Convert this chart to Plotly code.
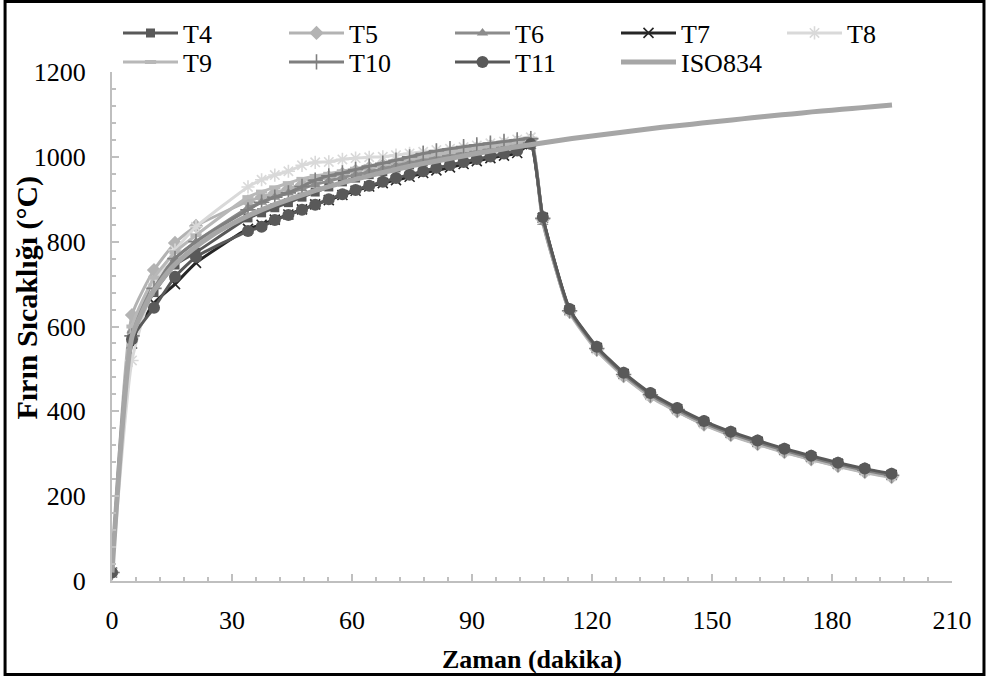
import plotly.graph_objects as go

# Measurement times (minutes): heating phase then cooling phase
t_heat = [0, 5, 10.5, 15.75, 21, 34.0, 37.4, 40.7, 44.1, 47.5, 50.8, 54.2, 57.6, 60.9,
          64.3, 67.7, 71.0, 74.4, 77.8, 81.1, 84.5, 87.9, 91.2, 94.6, 98.0, 101.3, 104.7]
t_cool = [107.7, 114.4, 121.2, 127.9, 134.6, 141.3, 148.0, 154.7, 161.4, 168.1,
          174.8, 181.5, 188.2, 194.9]

# Furnace temperatures (°C) per thermocouple
T4_heat = [20, 580, 680, 745, 775, 856, 868, 880, 892, 905, 917, 929, 941, 950,
           958, 965, 974, 981, 988, 993, 1000, 1009, 1012, 1016, 1023, 1028, 1036]
T4_cool = [858, 640, 550, 489, 441, 406, 375, 350, 329, 310, 293, 277, 263, 251]

T5_heat = [20, 627, 733, 797, 837, 895, 905, 915, 925, 935, 944, 952, 960, 967,
           974, 980, 986, 992, 998, 1004, 1010, 1015, 1020, 1025, 1030, 1035, 1040]
T5_cool = [852, 635, 545, 483, 435, 400, 369, 344, 323, 304, 287, 271, 257, 245]

T6_heat = [20, 590, 700, 760, 800, 880, 893, 905, 915, 925, 935, 943, 951, 958,
           965, 972, 979, 986, 992, 998, 1004, 1010, 1015, 1020, 1025, 1030, 1038]
T6_cool = [845, 637, 547, 486, 438, 403, 372, 347, 326, 307, 290, 274, 260, 248]

T7_heat = [20, 560, 655, 700, 750, 830, 840, 852, 864, 876, 888, 898, 910, 920,
           930, 938, 945, 953, 962, 968, 975, 983, 990, 997, 1003, 1009, 1030]
T7_cool = [856, 638, 549, 488, 440, 405, 374, 349, 328, 309, 292, 276, 262, 250]

T8_heat = [20, 520, 700, 780, 835, 929, 946, 957, 966, 980, 987, 988, 994, 997,
           999, 1000, 1004, 1008, 1012, 1016, 1019, 1023, 1027, 1032, 1036, 1041, 1046]
T8_cool = [853, 636, 546, 485, 437, 402, 371, 346, 325, 306, 289, 273, 259, 247]

T9_heat = [20, 600, 715, 775, 815, 905, 918, 928, 938, 948, 955, 960, 966, 972,
           978, 984, 990, 996, 1001, 1006, 1011, 1016, 1020, 1025, 1030, 1034, 1040]
T9_cool = [850, 633, 543, 482, 434, 399, 368, 343, 322, 303, 286, 270, 256, 244]

T10_heat = [20, 578, 690, 760, 800, 875, 893, 905, 915, 930, 945, 955, 962, 970,
            978, 985, 992, 1000, 1008, 1014, 1019, 1024, 1028, 1032, 1036, 1040, 1043]
T10_cool = [855, 637, 548, 487, 439, 404, 373, 348, 327, 308, 291, 275, 261, 249]

T11_heat = [20, 570, 644, 717, 764, 825, 835, 851, 863, 875, 887, 900, 912, 922,
            932, 941, 950, 958, 966, 974, 981, 988, 995, 1001, 1008, 1015, 1030]
T11_cool = [858, 641, 552, 491, 443, 408, 377, 352, 331, 312, 295, 279, 265, 253]

# Standard fire curve
t_iso = [0, 5, 10, 15, 20, 25, 30, 35, 40, 45, 50, 55, 60, 65, 70, 75, 80, 85, 90, 95,
         100, 105, 110, 115, 120, 125, 130, 135, 140, 145, 150, 155, 160, 165, 170,
         175, 180, 185, 190, 195]
iso834 = [20, 576, 678, 739, 781, 815, 842, 865, 885, 902, 918, 932, 945, 957, 968,
          979, 988, 997, 1006, 1014, 1022, 1029, 1036, 1043, 1049, 1055, 1061, 1067,
          1072, 1077, 1082, 1087, 1092, 1097, 1101, 1106, 1110, 1114, 1118, 1122]

x_ticks = [0, 30, 60, 90, 120, 150, 180, 210]
y_ticks = [0, 200, 400, 600, 800, 1000, 1200]

FONT = "Liberation Serif, Times New Roman, serif"

series = [
    ("T4", T4_heat, T4_cool, "#595959", dict(symbol="square", size=9), "legend"),
    ("T5", T5_heat, T5_cool, "#b3b3b3", dict(symbol="diamond", size=11), "legend"),
    ("T6", T6_heat, T6_cool, "#8c8c8c", dict(symbol="triangle-up", size=10), "legend"),
    ("T7", T7_heat, T7_cool, "#262626",
     dict(symbol="x-thin-open", size=10, line=dict(width=1.6, color="#262626")), "legend"),
    ("T8", T8_heat, T8_cool, "#d9d9d9",
     dict(symbol="asterisk-open", size=11, line=dict(width=1.6, color="#d0d0d0")), "legend"),
    ("T9", T9_heat, T9_cool, "#b8b8b8",
     dict(symbol="line-ew-open", size=8, line=dict(width=4, color="#a8a8a8")), "legend2"),
    ("T10", T10_heat, T10_cool, "#7f7f7f",
     dict(symbol="cross-thin-open", size=11, line=dict(width=1.6, color="#7f7f7f")), "legend2"),
    ("T11", T11_heat, T11_cool, "#595959", dict(symbol="circle", size=12), "legend2"),
]

fig = go.Figure()
for name, yh, yc, color, marker, leg in series:
    m = dict(color=color)
    m.update(marker)
    fig.add_trace(go.Scatter(
        x=t_heat + t_cool, y=yh + yc, name=name, mode="lines+markers",
        line=dict(color=color, width=3, shape="spline", smoothing=0.5),
        marker=m, legend=leg,
    ))

fig.add_trace(go.Scatter(
    x=t_iso, y=iso834, name="ISO834", mode="lines",
    line=dict(color="#a6a6a6", width=5, shape="spline", smoothing=0.5),
    legend="legend2",
))

L, R, T, B = 111.5, 952.0, 72.0, 581.0
W, H = 989, 679
pw, ph = R - L, B - T


def px(xp):
    return (xp - L) / pw


def py(yp):
    return (B - yp) / ph


legend_common = dict(
    orientation="h", entrywidth=96, entrywidthmode="pixels", itemwidth=55,
    font=dict(family=FONT, size=26, color="#000000"), bgcolor="rgba(0,0,0,0)",
    xanchor="left", yanchor="middle", traceorder="normal", itemclick=False,
    xref="container", yref="container",
)

axis_common = dict(
    showgrid=False, zeroline=False, showline=True, linecolor="#bfbfbf", linewidth=2,
    ticks="inside", ticklen=7, tickwidth=1.5, tickcolor="#bfbfbf",
    tickfont=dict(family=FONT, size=26, color="#000000"), automargin=False,
)

fig.update_layout(
    width=W, height=H,
    margin=dict(l=L, r=W - R, t=T, b=H - B, pad=0, autoexpand=False),
    paper_bgcolor="white", plot_bgcolor="white",
    xaxis=dict(range=[0, 210], tickvals=x_ticks, ticklabelstandoff=15,
               minor=dict(dtick=6, ticks="inside", ticklen=4, tickcolor="#bfbfbf",
                          tickwidth=1.5, showgrid=False),
               **axis_common),
    yaxis=dict(range=[0, 1200], tickvals=y_ticks, ticklabelstandoff=19,
               minor=dict(dtick=40, ticks="inside", ticklen=4, tickcolor="#bfbfbf",
                          tickwidth=1.5, showgrid=False),
               **axis_common),
    legend=dict(x=118 / W, y=1 - 33 / H, **legend_common),
    legend2=dict(x=118 / W, y=1 - 62 / H, **legend_common),
    showlegend=True,
    annotations=[
        dict(text="<b>Zaman (dakika)</b>", x=0.5, y=py(659), xref="paper", yref="paper",
             showarrow=False, font=dict(family=FONT, size=26, color="#000000"),
             xanchor="center", yanchor="middle"),
        dict(text="<b>Fırın Sıcaklığı (°C)</b>", x=px(26), y=py(298), xref="paper",
             yref="paper", showarrow=False, textangle=-90,
             font=dict(family=FONT, size=30, color="#000000"),
             xanchor="center", yanchor="middle"),
    ],
    shapes=[
        dict(type="rect", xref="paper", yref="paper",
             x0=px(4.5), x1=px(984), y0=py(674.5), y1=py(1.5),
             line=dict(color="#000000", width=3), fillcolor="rgba(0,0,0,0)", layer="below"),
    ],
)

fig.write_html("out.html")
